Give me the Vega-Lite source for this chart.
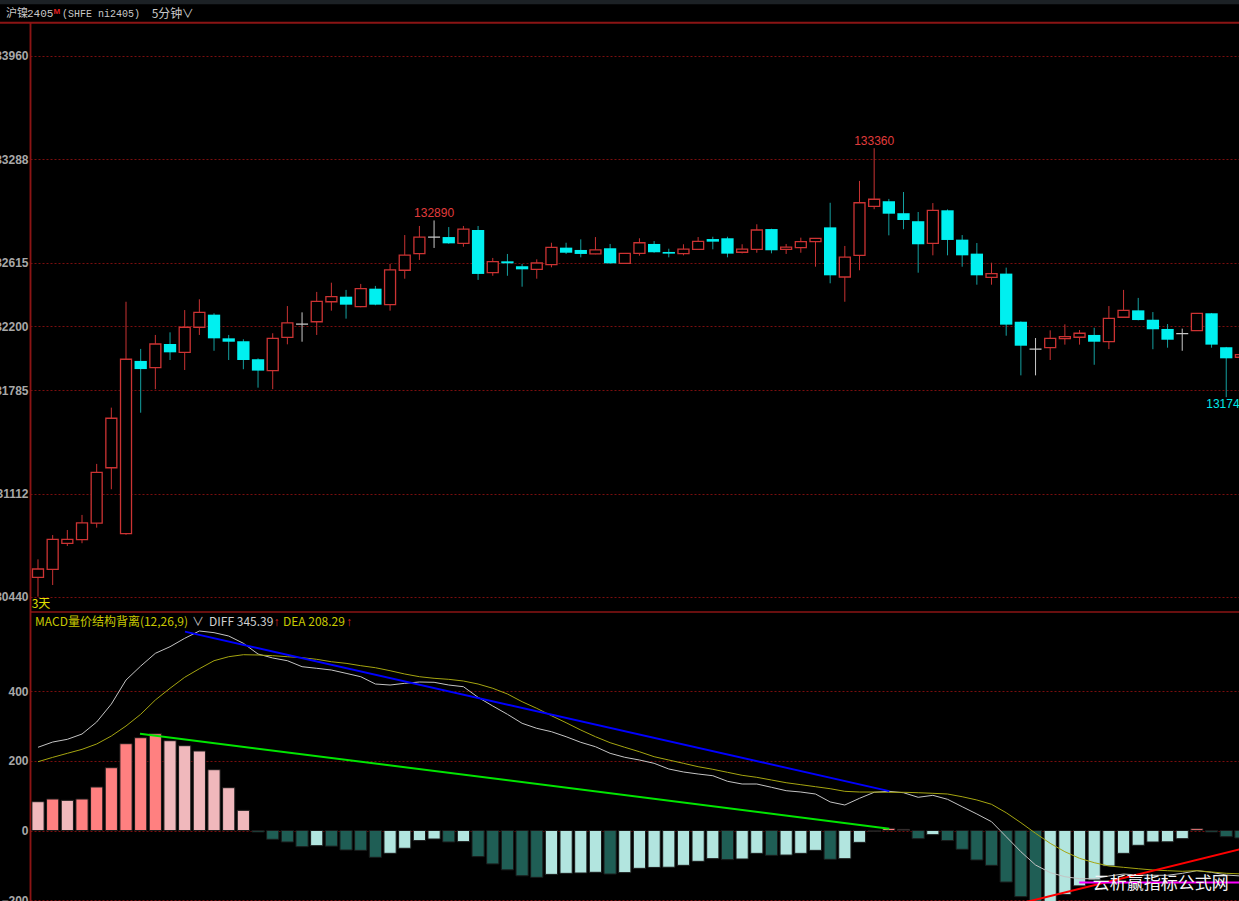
{
  "$schema": "https://vega.github.io/schema/vega-lite/v6.json",
  "width": 1209,
  "height": 879,
  "padding": {"left": 30, "top": 22, "right": 0, "bottom": 0},
  "autosize": {"type": "none"},
  "background": "#000000",
  "config": {
    "view": {"stroke": null},
    "axis": {"domainColor": "#8b1414", "domainWidth": 1.5, "gridColor": "#7a0e0e", "gridDash": [2, 2], "gridWidth": 1, "labelColor": "#a8a8a8", "labelFont": "Liberation Sans", "labelFontSize": 12, "labelFontWeight": "bold", "ticks": false, "labelPadding": 2, "title": null},
    "text": {"font": "Noto Sans CJK SC", "fontSize": 12}
  },
  "datasets": {
    "candles": [
      {"i":0,"o":130568,"h":130685,"l":130442,"c":130622},
      {"i":1,"o":130620,"h":130843,"l":130518,"c":130815},
      {"i":2,"o":130789,"h":130876,"l":130772,"c":130815},
      {"i":3,"o":130813,"h":130974,"l":130790,"c":130922},
      {"i":4,"o":130920,"h":131306,"l":130891,"c":131251},
      {"i":5,"o":131281,"h":131672,"l":131141,"c":131603},
      {"i":6,"o":130852,"h":132361,"l":130845,"c":131987},
      {"i":7,"o":131976,"h":132054,"l":131639,"c":131923},
      {"i":8,"o":131932,"h":132145,"l":131792,"c":132086},
      {"i":9,"o":132086,"h":132162,"l":131982,"c":132032},
      {"i":10,"o":132032,"h":132307,"l":131917,"c":132195},
      {"i":11,"o":132195,"h":132377,"l":132145,"c":132292},
      {"i":12,"o":132277,"h":132286,"l":132042,"c":132123},
      {"i":13,"o":132123,"h":132145,"l":131982,"c":132101},
      {"i":14,"o":132104,"h":132117,"l":131922,"c":131982},
      {"i":15,"o":131987,"h":131993,"l":131802,"c":131913},
      {"i":16,"o":131913,"h":132156,"l":131792,"c":132123},
      {"i":17,"o":132129,"h":132333,"l":132084,"c":132223},
      {"i":18,"o":132216,"h":132292,"l":132101,"c":132216},
      {"i":19,"o":132231,"h":132425,"l":132145,"c":132364},
      {"i":20,"o":132361,"h":132485,"l":132303,"c":132394},
      {"i":21,"o":132394,"h":132438,"l":132251,"c":132342},
      {"i":22,"o":132329,"h":132477,"l":132325,"c":132446},
      {"i":23,"o":132446,"h":132464,"l":132338,"c":132342},
      {"i":24,"o":132342,"h":132607,"l":132303,"c":132568},
      {"i":25,"o":132566,"h":132795,"l":132511,"c":132665},
      {"i":26,"o":132674,"h":132854,"l":132633,"c":132782},
      {"i":27,"o":132782,"h":132890,"l":132711,"c":132782},
      {"i":28,"o":132782,"h":132847,"l":132738,"c":132741},
      {"i":29,"o":132741,"h":132854,"l":132719,"c":132834},
      {"i":30,"o":132828,"h":132854,"l":132503,"c":132542},
      {"i":31,"o":132550,"h":132646,"l":132530,"c":132622},
      {"i":32,"o":132624,"h":132672,"l":132530,"c":132611},
      {"i":33,"o":132592,"h":132607,"l":132459,"c":132572},
      {"i":34,"o":132572,"h":132637,"l":132511,"c":132613},
      {"i":35,"o":132602,"h":132745,"l":132585,"c":132715},
      {"i":36,"o":132713,"h":132745,"l":132672,"c":132680},
      {"i":37,"o":132698,"h":132767,"l":132650,"c":132672},
      {"i":38,"o":132672,"h":132782,"l":132670,"c":132698},
      {"i":39,"o":132709,"h":132737,"l":132608,"c":132611},
      {"i":40,"o":132611,"h":132678,"l":132608,"c":132676},
      {"i":41,"o":132676,"h":132774,"l":132661,"c":132745},
      {"i":42,"o":132737,"h":132756,"l":132680,"c":132683},
      {"i":43,"o":132685,"h":132706,"l":132650,"c":132674},
      {"i":44,"o":132674,"h":132735,"l":132663,"c":132704},
      {"i":45,"o":132702,"h":132782,"l":132700,"c":132754},
      {"i":46,"o":132769,"h":132784,"l":132702,"c":132752},
      {"i":47,"o":132774,"h":132784,"l":132650,"c":132674},
      {"i":48,"o":132683,"h":132735,"l":132676,"c":132704},
      {"i":49,"o":132702,"h":132865,"l":132680,"c":132828},
      {"i":50,"o":132834,"h":132836,"l":132676,"c":132696},
      {"i":51,"o":132702,"h":132737,"l":132672,"c":132717},
      {"i":52,"o":132713,"h":132778,"l":132680,"c":132752},
      {"i":53,"o":132752,"h":132776,"l":132589,"c":132774},
      {"i":54,"o":132845,"h":133005,"l":132481,"c":132533},
      {"i":55,"o":132522,"h":132724,"l":132361,"c":132652},
      {"i":56,"o":132663,"h":133147,"l":132566,"c":133005},
      {"i":57,"o":132982,"h":133360,"l":132963,"c":133028},
      {"i":58,"o":133015,"h":133030,"l":132793,"c":132934},
      {"i":59,"o":132937,"h":133075,"l":132833,"c":132893},
      {"i":60,"o":132885,"h":132945,"l":132550,"c":132735},
      {"i":61,"o":132741,"h":133003,"l":132663,"c":132956},
      {"i":62,"o":132956,"h":132962,"l":132663,"c":132763},
      {"i":63,"o":132765,"h":132795,"l":132589,"c":132663},
      {"i":64,"o":132674,"h":132743,"l":132472,"c":132533},
      {"i":65,"o":132520,"h":132615,"l":132472,"c":132544},
      {"i":66,"o":132544,"h":132583,"l":132140,"c":132212},
      {"i":67,"o":132231,"h":132233,"l":131882,"c":132075},
      {"i":68,"o":132053,"h":132125,"l":131882,"c":132053},
      {"i":69,"o":132062,"h":132175,"l":131982,"c":132123},
      {"i":70,"o":132121,"h":132214,"l":132082,"c":132134},
      {"i":71,"o":132130,"h":132177,"l":132082,"c":132156},
      {"i":72,"o":132145,"h":132192,"l":131951,"c":132101},
      {"i":73,"o":132101,"h":132333,"l":132053,"c":132253},
      {"i":74,"o":132260,"h":132438,"l":132258,"c":132305},
      {"i":75,"o":132305,"h":132386,"l":132240,"c":132242},
      {"i":76,"o":132244,"h":132294,"l":132052,"c":132182},
      {"i":77,"o":132184,"h":132216,"l":132062,"c":132114},
      {"i":78,"o":132153,"h":132186,"l":132042,"c":132153},
      {"i":79,"o":132173,"h":132288,"l":132171,"c":132286},
      {"i":80,"o":132286,"h":132288,"l":132062,"c":132082},
      {"i":81,"o":132065,"h":132067,"l":131740,"c":131993},
      {"i":82,"o":132000,"h":132017,"l":131998,"c":132017}
    ],
    "macd": [
      {"i":0,"v":82.7,"k":"pd","d":238.9,"e":197.5},
      {"i":1,"v":90.4,"k":"pu","d":254,"e":210},
      {"i":2,"v":86.7,"k":"pd","d":261.8,"e":221.6},
      {"i":3,"v":90.4,"k":"pu","d":277,"e":233},
      {"i":4,"v":124.9,"k":"pu","d":311.5,"e":248.4},
      {"i":5,"v":180.3,"k":"pu","d":363,"e":271.3},
      {"i":6,"v":249.2,"k":"pu","d":432,"e":300},
      {"i":7,"v":266.4,"k":"pu","d":472,"e":333.6},
      {"i":8,"v":277.9,"k":"pu","d":508.7,"e":374.7},
      {"i":9,"v":257.8,"k":"pd","d":527.7,"e":408.3},
      {"i":10,"v":243.5,"k":"pd","d":551.8,"e":439.9},
      {"i":11,"v":228.3,"k":"pd","d":572.8,"e":464.5},
      {"i":12,"v":174.6,"k":"pd","d":568,"e":487.5},
      {"i":13,"v":122.9,"k":"pd","d":558.4,"e":499},
      {"i":14,"v":58,"k":"pd","d":537.5,"e":504.7},
      {"i":15,"v":-4.3,"k":"nd","d":506.7,"e":503.9},
      {"i":16,"v":-25.3,"k":"nd","d":495.3,"e":501.9},
      {"i":17,"v":-33,"k":"nd","d":487.5,"e":499},
      {"i":18,"v":-46.5,"k":"nd","d":470.3,"e":496.1},
      {"i":19,"v":-43.6,"k":"nu","d":465.7,"e":491.5},
      {"i":20,"v":-45,"k":"nd","d":460.8,"e":484.6},
      {"i":21,"v":-56,"k":"nd","d":451.3,"e":480},
      {"i":22,"v":-57,"k":"nd","d":441.6,"e":473.2},
      {"i":23,"v":-77,"k":"nd","d":420.6,"e":467.4},
      {"i":24,"v":-65.5,"k":"nu","d":417.7,"e":458.8},
      {"i":25,"v":-51,"k":"nu","d":422.6,"e":449.3},
      {"i":26,"v":-29,"k":"nu","d":426.4,"e":441.6},
      {"i":27,"v":-24.4,"k":"nu","d":425.5,"e":437},
      {"i":28,"v":-33,"k":"nd","d":417.7,"e":434},
      {"i":29,"v":-32,"k":"nu","d":412.9,"e":429.2},
      {"i":30,"v":-75,"k":"nd","d":382.4,"e":420.6},
      {"i":31,"v":-96,"k":"nd","d":357.5,"e":408.3},
      {"i":32,"v":-113,"k":"nd","d":333.6,"e":392},
      {"i":33,"v":-130,"k":"nd","d":307.8,"e":369.8},
      {"i":34,"v":-134.5,"k":"nd","d":293.4,"e":350.8},
      {"i":35,"v":-126,"k":"nu","d":283.7,"e":329.6},
      {"i":36,"v":-123,"k":"nu","d":269.3,"e":309.5},
      {"i":37,"v":-122,"k":"nu","d":253.2,"e":288.5},
      {"i":38,"v":-120,"k":"nu","d":240.6,"e":269.3},
      {"i":39,"v":-125,"k":"nd","d":221.6,"e":252.1},
      {"i":40,"v":-121,"k":"nu","d":210.2,"e":238.9},
      {"i":41,"v":-108.6,"k":"nu","d":202.4,"e":226.2},
      {"i":42,"v":-106,"k":"nu","d":192.9,"e":211.9},
      {"i":43,"v":-105.5,"k":"nu","d":176.6,"e":202.4},
      {"i":44,"v":-100,"k":"nu","d":168,"e":192.9},
      {"i":45,"v":-88.5,"k":"nu","d":162.2,"e":183.2},
      {"i":46,"v":-80.9,"k":"nu","d":157.3,"e":175.7},
      {"i":47,"v":-83.7,"k":"nd","d":141.3,"e":167.1},
      {"i":48,"v":-81.8,"k":"nu","d":133.5,"e":158.5},
      {"i":49,"v":-65.6,"k":"nu","d":133.5,"e":152.7},
      {"i":50,"v":-71.3,"k":"nd","d":124,"e":145},
      {"i":51,"v":-70.5,"k":"nu","d":114.3,"e":137.2},
      {"i":52,"v":-65.6,"k":"nu","d":110.5,"e":131.5},
      {"i":53,"v":-57,"k":"nu","d":104.8,"e":125.8},
      {"i":54,"v":-82.8,"k":"nd","d":82,"e":120},
      {"i":55,"v":-81,"k":"nu","d":73.2,"e":112.5},
      {"i":56,"v":-34,"k":"nu","d":92.4,"e":110.5},
      {"i":57,"v":-2.5,"k":"nu","d":109.7,"e":110.5},
      {"i":58,"v":6.3,"k":"pu","d":112.5,"e":109.7},
      {"i":59,"v":3.4,"k":"pd","d":108.5,"e":109.7},
      {"i":60,"v":-23.5,"k":"nd","d":95.3,"e":108.5},
      {"i":61,"v":-12,"k":"nu","d":101,"e":106.8},
      {"i":62,"v":-29,"k":"nd","d":89.6,"e":104.8},
      {"i":63,"v":-54,"k":"nd","d":68.3,"e":97},
      {"i":64,"v":-84.7,"k":"nd","d":47.4,"e":87.6},
      {"i":65,"v":-100,"k":"nd","d":25.3,"e":75.2},
      {"i":66,"v":-148,"k":"nd","d":-17.8,"e":51.1},
      {"i":67,"v":-190,"k":"nd","d":-60.9,"e":22.4},
      {"i":68,"v":-225,"k":"nd","d":-99,"e":-8},
      {"i":69,"v":-215,"k":"nu","d":-121,"e":-36.8},
      {"i":70,"v":-184,"k":"nu","d":-132.6,"e":-60.9},
      {"i":71,"v":-159,"k":"nu","d":-138.4,"e":-79.8},
      {"i":72,"v":-142,"k":"nu","d":-138.4,"e":-92.4},
      {"i":73,"v":-102,"k":"nu","d":-130.6,"e":-102},
      {"i":74,"v":-65.6,"k":"nu","d":-125,"e":-105.7},
      {"i":75,"v":-42.5,"k":"nu","d":-127.8,"e":-109.7},
      {"i":76,"v":-33,"k":"nu","d":-128.6,"e":-113.4},
      {"i":77,"v":-32.5,"k":"nu","d":-128.6,"e":-115.4},
      {"i":78,"v":-23.5,"k":"nu","d":-123,"e":-117.1},
      {"i":79,"v":5.2,"k":"pu","d":-115.4,"e":-115.4},
      {"i":80,"v":-4.3,"k":"nd","d":-120,"e":-119.1},
      {"i":81,"v":-17.8,"k":"nd","d":-127.8,"e":-122.9},
      {"i":82,"v":-21.5,"k":"nd","d":-130.6,"e":-124.5}
    ],
    "segs": [
      {"g":"blue","i":10.02,"v":571},
      {"g":"blue","i":58.03,"v":113},
      {"g":"green","i":6.95,"v":278},
      {"g":"green","i":58.03,"v":5.2},
      {"g":"red","i":67,"v":-209},
      {"g":"red","i":83,"v":-43},
      {"g":"magenta","i":70.98,"v":-149},
      {"g":"magenta","i":83,"v":-149}
    ],
    "plabels": [
      {"i":27,"p":132890,"t":"132890","k":"hi"},
      {"i":57,"p":133360,"t":"133360","k":"hi"},
      {"i":81,"p":131740,"t":"131740","k":"lo"}
    ]
  },
  "layer": [
    {
      "layer": [
        {
          "data": {"values": [{}]},
          "mark": {"type": "rect", "color": "#1c2125"},
          "encoding": {
            "x": {"datum": -3, "type": "quantitative", "scale": {"domain": [-0.545, 81.87], "nice": false, "zero": false, "padding": 0}, "axis": null},
            "x2": {"datum": 90},
            "y": {"datum": 134324, "type": "quantitative", "scale": {"domain": [128462, 134181.2], "nice": false, "zero": false}, "axis": {"values": [130440, 131112, 131785, 132200, 132615, 133288, 133960], "grid": true, "format": "d", "orient": "left"}},
            "y2": {"datum": 134296}
          }
        },
        {
          "data": {"values": [{}]},
          "mark": {"type": "rule", "color": "#8b1414", "strokeWidth": 2},
          "encoding": {
            "x": {"datum": -3, "type": "quantitative"},
            "x2": {"datum": 90},
            "y": {"datum": 134176, "type": "quantitative"}
          }
        },
        {
          "data": {"name": "candles"},
          "transform": [{"filter": "datum.c > datum.o"}],
          "mark": {"type": "rule", "color": "#c83232", "strokeWidth": 1},
          "encoding": {
            "x": {"field": "i", "type": "quantitative"},
            "y": {"field": "l", "type": "quantitative"},
            "y2": {"field": "h"}
          }
        },
        {
          "data": {"name": "candles"},
          "transform": [{"filter": "datum.c < datum.o"}],
          "mark": {"type": "rule", "color": "#14a0a0", "strokeWidth": 1},
          "encoding": {
            "x": {"field": "i", "type": "quantitative"},
            "y": {"field": "l", "type": "quantitative"},
            "y2": {"field": "h"}
          }
        },
        {
          "data": {"name": "candles"},
          "transform": [{"filter": "datum.c == datum.o"}],
          "mark": {"type": "rule", "color": "#c8c8c8", "strokeWidth": 1},
          "encoding": {
            "x": {"field": "i", "type": "quantitative"},
            "y": {"field": "l", "type": "quantitative"},
            "y2": {"field": "h"}
          }
        },
        {
          "data": {"name": "candles"},
          "transform": [{"filter": "datum.c > datum.o"}],
          "mark": {"type": "bar", "fill": "#000000", "stroke": "#cc3333", "strokeWidth": 1.3, "size": 11},
          "encoding": {
            "x": {"field": "i", "type": "quantitative"},
            "y": {"field": "o", "type": "quantitative"},
            "y2": {"field": "c"}
          }
        },
        {
          "data": {"name": "candles"},
          "transform": [{"filter": "datum.c < datum.o"}],
          "mark": {"type": "bar", "color": "#00f0f0", "size": 12.3},
          "encoding": {
            "x": {"field": "i", "type": "quantitative"},
            "y": {"field": "o", "type": "quantitative"},
            "y2": {"field": "c"}
          }
        },
        {
          "data": {"name": "candles"},
          "transform": [{"filter": "datum.c == datum.o"}],
          "mark": {"type": "bar", "fill": "#c8c8c8", "stroke": "#c8c8c8", "strokeWidth": 1.2, "size": 12},
          "encoding": {
            "x": {"field": "i", "type": "quantitative"},
            "y": {"field": "o", "type": "quantitative"},
            "y2": {"field": "c"}
          }
        },
        {
          "data": {"name": "plabels"},
          "transform": [{"filter": "datum.k == 'hi'"}],
          "mark": {"type": "text", "color": "#e03c3c", "font": "Liberation Sans", "fontSize": 12, "baseline": "alphabetic", "dy": -3},
          "encoding": {
            "x": {"field": "i", "type": "quantitative"},
            "y": {"field": "p", "type": "quantitative"},
            "text": {"field": "t"}
          }
        },
        {
          "data": {"name": "plabels"},
          "transform": [{"filter": "datum.k == 'lo'"}],
          "mark": {"type": "text", "color": "#00e8e8", "font": "Liberation Sans", "fontSize": 12, "baseline": "top", "dy": 2},
          "encoding": {
            "x": {"field": "i", "type": "quantitative"},
            "y": {"field": "p", "type": "quantitative"},
            "text": {"field": "t"}
          }
        },
        {
          "data": {"values": [{}]},
          "mark": {"type": "text", "color": "#e0e000", "align": "left", "baseline": "middle", "fontSize": 12},
          "encoding": {
            "x": {"datum": -0.43, "type": "quantitative"},
            "y": {"datum": 130394, "type": "quantitative"},
            "text": {"value": "3天"}
          }
        },
        {
          "data": {"values": [{}]},
          "mark": {"type": "text", "color": "#c8c8c8", "align": "left", "baseline": "middle", "fontSize": 11},
          "encoding": {
            "x": {"datum": -2.18, "type": "quantitative"},
            "y": {"datum": 134233, "type": "quantitative"},
            "text": {"value": "沪镍"}
          }
        },
        {
          "data": {"values": [{}]},
          "mark": {"type": "text", "color": "#c8c8c8", "align": "left", "baseline": "middle", "fontSize": 11, "font": "Liberation Mono"},
          "encoding": {
            "x": {"datum": -0.75, "type": "quantitative"},
            "y": {"datum": 134233, "type": "quantitative"},
            "text": {"value": "2405"}
          }
        },
        {
          "data": {"values": [{}]},
          "mark": {"type": "text", "color": "#e02020", "align": "left", "baseline": "middle", "fontSize": 8, "fontWeight": "bold", "font": "Liberation Sans"},
          "encoding": {
            "x": {"datum": 1.06, "type": "quantitative"},
            "y": {"datum": 134246, "type": "quantitative"},
            "text": {"value": "M"}
          }
        },
        {
          "data": {"values": [{}]},
          "mark": {"type": "text", "color": "#c8c8c8", "align": "left", "baseline": "middle", "fontSize": 10, "font": "Liberation Mono"},
          "encoding": {
            "x": {"datum": 1.63, "type": "quantitative"},
            "y": {"datum": 134233, "type": "quantitative"},
            "text": {"value": "(SHFE ni2405)"}
          }
        },
        {
          "data": {"values": [{}]},
          "mark": {"type": "text", "color": "#c8c8c8", "align": "left", "baseline": "middle", "fontSize": 12},
          "encoding": {
            "x": {"datum": 7.75, "type": "quantitative"},
            "y": {"datum": 134233, "type": "quantitative"},
            "text": {"value": "5分钟"}
          }
        },
        {
          "data": {"values": [{}]},
          "mark": {"type": "text", "color": "#c8c8c8", "align": "left", "baseline": "middle", "fontSize": 12},
          "encoding": {
            "x": {"datum": 9.8, "type": "quantitative"},
            "y": {"datum": 134233, "type": "quantitative"},
            "text": {"value": "∨"}
          }
        }
      ]
    },
    {
      "layer": [
        {
          "data": {"name": "macd"},
          "mark": {"type": "bar", "stroke": "#1a1a1a", "strokeWidth": 1, "size": 12.2},
          "encoding": {
            "x": {"field": "i", "type": "quantitative"},
            "y": {"field": "v", "type": "quantitative", "scale": {"domain": [-202.4, 2321.3], "nice": false, "zero": false}, "axis": {"values": [-200, 0, 200, 400], "grid": true, "format": "d", "orient": "left"}},
            "y2": {"datum": 0},
            "fill": {"field": "k", "type": "nominal", "scale": {"domain": ["pu", "pd", "nd", "nu"], "range": ["#ff8080", "#f0b8bc", "#1f5e55", "#b2e5df"]}, "legend": null}
          }
        },
        {
          "data": {"values": [{}]},
          "mark": {"type": "rule", "color": "#8b1414", "strokeWidth": 1.5},
          "encoding": {
            "y": {"datum": 627, "type": "quantitative"}
          }
        },
        {
          "data": {"name": "macd"},
          "mark": {"type": "line", "color": "#c4c4c4", "strokeWidth": 1},
          "encoding": {
            "x": {"field": "i", "type": "quantitative"},
            "y": {"field": "d", "type": "quantitative"}
          }
        },
        {
          "data": {"name": "macd"},
          "mark": {"type": "line", "color": "#a5a510", "strokeWidth": 1},
          "encoding": {
            "x": {"field": "i", "type": "quantitative"},
            "y": {"field": "e", "type": "quantitative"}
          }
        },
        {
          "data": {"name": "segs"},
          "mark": {"type": "line", "strokeWidth": 2},
          "encoding": {
            "x": {"field": "i", "type": "quantitative"},
            "y": {"field": "v", "type": "quantitative"},
            "detail": {"field": "g"},
            "stroke": {"field": "g", "type": "nominal", "scale": {"domain": ["blue", "green", "red", "magenta"], "range": ["#0000ff", "#00e600", "#ff0000", "#ff00ff"]}, "legend": null}
          }
        },
        {
          "data": {"values": [{}]},
          "mark": {"type": "text", "color": "#c8c800", "align": "left", "baseline": "middle", "fontSize": 12},
          "encoding": {
            "x": {"datum": -0.2, "type": "quantitative"},
            "y": {"datum": 599.5, "type": "quantitative"},
            "text": {"value": "MACD量价结构背离(12,26,9)"}
          }
        },
        {
          "data": {"values": [{}]},
          "mark": {"type": "text", "color": "#c0c0c0", "align": "left", "baseline": "middle", "fontSize": 12},
          "encoding": {
            "x": {"datum": 10.5, "type": "quantitative"},
            "y": {"datum": 599.5, "type": "quantitative"},
            "text": {"value": "∨"}
          }
        },
        {
          "data": {"values": [{}]},
          "mark": {"type": "text", "color": "#d0d0d0", "align": "left", "baseline": "middle", "fontSize": 12},
          "encoding": {
            "x": {"datum": 11.66, "type": "quantitative"},
            "y": {"datum": 599.5, "type": "quantitative"},
            "text": {"value": "DIFF 345.39"}
          }
        },
        {
          "data": {"values": [{}]},
          "mark": {"type": "text", "color": "#e02020", "align": "left", "baseline": "middle", "fontSize": 12, "font": "Liberation Sans"},
          "encoding": {
            "x": {"datum": 16.05, "type": "quantitative"},
            "y": {"datum": 599.5, "type": "quantitative"},
            "text": {"value": "↑"}
          }
        },
        {
          "data": {"values": [{}]},
          "mark": {"type": "text", "color": "#c8c800", "align": "left", "baseline": "middle", "fontSize": 12},
          "encoding": {
            "x": {"datum": 16.7, "type": "quantitative"},
            "y": {"datum": 599.5, "type": "quantitative"},
            "text": {"value": "DEA 208.29"}
          }
        },
        {
          "data": {"values": [{}]},
          "mark": {"type": "text", "color": "#e02020", "align": "left", "baseline": "middle", "fontSize": 12, "font": "Liberation Sans"},
          "encoding": {
            "x": {"datum": 21.0, "type": "quantitative"},
            "y": {"datum": 599.5, "type": "quantitative"},
            "text": {"value": "↑"}
          }
        },
        {
          "data": {"values": [{}]},
          "mark": {"type": "text", "color": "#f5f5f5", "align": "center", "baseline": "middle", "fontSize": 17},
          "encoding": {
            "x": {"datum": 76.54, "type": "quantitative"},
            "y": {"datum": -155, "type": "quantitative"},
            "text": {"value": "云析赢指标公式网"}
          }
        }
      ]
    }
  ],
  "resolve": {"scale": {"y": "independent"}, "axis": {"y": "independent"}}
}
